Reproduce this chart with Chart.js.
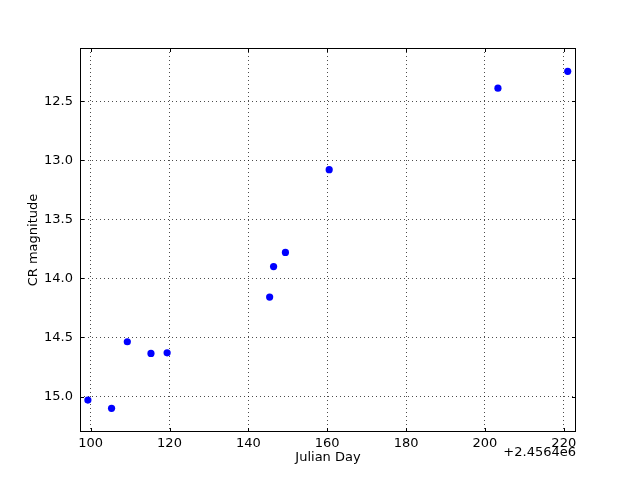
<!DOCTYPE html>
<html>
<head>
<meta charset="utf-8">
<script src="https://cdn.jsdelivr.net/npm/chart.js@4"></script>
<style>
html,body{margin:0;padding:0;background:#fff;}
#wrap{width:640px;height:480px;}
</style>
</head>
<body>
<div id="wrap"><canvas id="c" width="640" height="480"></canvas></div>
<script>
// Julian Day offsets (relative to 2456400)
const julianDay = [99.3, 105.3, 109.3, 115.3, 119.4, 145.4, 146.4, 149.4, 160.5, 203.3, 221.0];
const crMagnitude = [15.03, 15.10, 14.536, 14.635, 14.63, 14.158, 13.90, 13.78, 13.08, 12.39, 12.247];
const xTicks = [100, 120, 140, 160, 180, 200, 220];
const yTicks = [12.5, 13.0, 13.5, 14.0, 14.5, 15.0];
const xOffsetText = '+2.4564e6';

const FONT = 'DejaVu Sans';

const framePlugin = {
  id: 'frame',
  afterDraw(chart) {
    const {ctx, chartArea: a, scales} = chart;
    ctx.save();
    ctx.strokeStyle = '#000';
    ctx.lineWidth = 1;
    // inner ticks
    ctx.beginPath();
    const L = 4;
    xTicks.forEach(v => {
      const x = Math.round(scales.x.getPixelForValue(v)) + 0.5;
      ctx.moveTo(x, a.bottom); ctx.lineTo(x, a.bottom - L);
      ctx.moveTo(x, a.top); ctx.lineTo(x, a.top + L);
    });
    yTicks.forEach(v => {
      const y = Math.round(scales.y.getPixelForValue(v)) + 0.5;
      ctx.moveTo(a.left, y); ctx.lineTo(a.left + L, y);
      ctx.moveTo(a.right, y); ctx.lineTo(a.right - L, y);
    });
    ctx.stroke();
    // frame
    ctx.strokeRect(a.left + 0.5, a.top + 0.5, a.right - a.left - 1, a.bottom - a.top - 1);
    // offset text
    ctx.fillStyle = '#000';
    ctx.font = '13px "' + FONT + '"';
    ctx.textAlign = 'right';
    ctx.textBaseline = 'middle';
    ctx.fillText(xOffsetText, a.right, 453);
    ctx.restore();
  }
};

new Chart(document.getElementById('c'), {
  type: 'scatter',
  data: {
    datasets: [{
      data: julianDay.map((x, i) => ({x: x, y: crMagnitude[i]})),
      backgroundColor: '#0000ff',
      borderColor: '#0000ff',
      borderWidth: 0,
      pointRadius: 3.6,
      pointHoverRadius: 3.6
    }]
  },
  options: {
    responsive: false,
    animation: false,
    devicePixelRatio: 1,
    layout: {padding: {left: 0, right: 64, top: 48, bottom: 0}},
    plugins: {legend: {display: false}, tooltip: {enabled: false}},
    scales: {
      x: {
        type: 'linear',
        min: 97.3,
        max: 223.1,
        afterFit(s) { s.height = 48; },
        afterBuildTicks(s) { s.ticks = xTicks.map(v => ({value: v})); },
        grid: {color: 'rgba(0,0,0,0.7)', lineWidth: 1, drawTicks: false, borderDash: [1, 3]},
        border: {display: false, dash: [1, 3]},
        ticks: {
          color: '#000', padding: 4, maxRotation: 0, autoSkip: false,
          font: {family: FONT, size: 13},
          callback: v => String(v)
        },
        title: {display: true, text: 'Julian Day', color: '#000',
          font: {family: FONT, size: 13}, padding: {top: 0, bottom: 15}}
      },
      y: {
        type: 'linear',
        reverse: true,
        min: 12.05,
        max: 15.30,
        afterFit(s) { s.width = 80; },
        afterBuildTicks(s) { s.ticks = yTicks.map(v => ({value: v})); },
        grid: {color: 'rgba(0,0,0,0.7)', lineWidth: 1, drawTicks: false},
        border: {display: false, dash: [1, 3]},
        ticks: {
          color: '#000', padding: 7, autoSkip: false,
          font: {family: FONT, size: 13},
          callback: v => Number(v).toFixed(1)
        },
        title: {display: true, text: 'CR magnitude', color: '#000',
          font: {family: FONT, size: 13}, padding: {top: 26, bottom: 0}}
      }
    }
  },
  plugins: [framePlugin]
});
</script>
</body>
</html>
